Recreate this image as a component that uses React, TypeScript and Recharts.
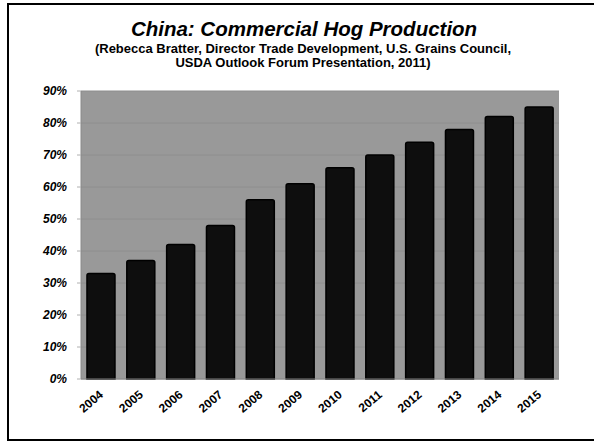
import React from "react";
import { BarChart, Bar, XAxis, YAxis, CartesianGrid } from "recharts";

const years = ["2004", "2005", "2006", "2007", "2008", "2009", "2010", "2011", "2012", "2013", "2014", "2015"];
const sharePct = [33, 37, 42, 48, 56, 61, 66, 70, 74, 78, 82, 85];
const yTicks = [0, 10, 20, 30, 40, 50, 60, 70, 80, 90];
const edgeTicks = [0, 1, 2, 3, 4, 5, 6, 7, 8, 9, 10, 11, 12];

const data = years.map((year, i) => ({ year, share: sharePct[i] }));

const FONT = '"Liberation Sans", Arial, sans-serif';

const YearTick = ({ x, y, payload }: any) => {
  const ax = x + 3;
  const ay = y + 17;
  return (
    <text
      x={ax}
      y={ay}
      textAnchor="end"
      transform={`rotate(-40, ${ax}, ${ay})`}
      fontFamily={FONT}
      fontSize={12}
      fontWeight="bold"
      fill="#000"
    >
      {payload.value}
    </text>
  );
};

const App = () => {
  return (
    <div
      style={{
        position: "absolute",
        left: 0,
        top: 0,
        width: 594,
        height: 445,
        overflow: "hidden",
        background: "#fff",
        fontFamily: FONT,
      }}
    >
      <div
        style={{
          position: "absolute",
          left: 7,
          top: 3,
          width: 620,
          height: 438,
          border: "2.5px solid #000",
          boxSizing: "border-box",
        }}
      />
      <div
        style={{
          position: "absolute",
          left: 0,
          top: 19,
          width: 608,
          textAlign: "center",
          fontSize: 20.5,
          lineHeight: "20px",
          fontWeight: "bold",
          fontStyle: "italic",
        }}
      >
        China: Commercial Hog Production
      </div>
      <div
        style={{
          position: "absolute",
          left: 0,
          top: 42,
          width: 606,
          textAlign: "center",
          fontSize: 13,
          lineHeight: "14px",
          fontWeight: "bold",
        }}
      >
        (Rebecca Bratter, Director Trade Development, U.S. Grains Council,
        <br />
        USDA Outlook Forum Presentation, 2011)
      </div>
      <div style={{ position: "absolute", left: 0, top: 0 }}>
        <BarChart
          width={594}
          height={445}
          data={data}
          margin={{ top: 91, right: 35, left: 21, bottom: 26 }}
          barCategoryGap="15%"
        >
          <CartesianGrid
            vertical={false}
            stroke="#8e8e8e"
            fill="#999999"
            fillOpacity={1}
          />
          <XAxis
            xAxisId="edges"
            type="number"
            domain={[0, 12]}
            ticks={edgeTicks}
            height={0}
            axisLine={false}
            tickSize={4}
            tickLine={{ stroke: "#b0b0b0" }}
            tick={() => <g />}
          />
          <XAxis
            dataKey="year"
            height={40}
            tickSize={0}
            tickMargin={0}
            tickLine={false}
            axisLine={{ stroke: "#8a8a8a" }}
            tick={<YearTick />}
            interval={0}
          />
          <YAxis
            width={60}
            domain={[0, 90]}
            ticks={yTicks}
            tickSize={4}
            tickMargin={10}
            tickLine={{ stroke: "#b0b0b0" }}
            axisLine={{ stroke: "#8a8a8a" }}
            tickFormatter={(v: number) => `${v}%`}
            tick={{
              fontFamily: FONT,
              fontSize: 12,
              fontWeight: "bold",
              fontStyle: "italic",
              fill: "#000",
            }}
          />
          <Bar
            dataKey="share"
            fill="#0e0e0e"
            stroke="#000"
            strokeWidth={1.5}
            radius={[2, 2, 0, 0]}
            isAnimationActive={false}
          />
        </BarChart>
      </div>
    </div>
  );
};

export default App;
